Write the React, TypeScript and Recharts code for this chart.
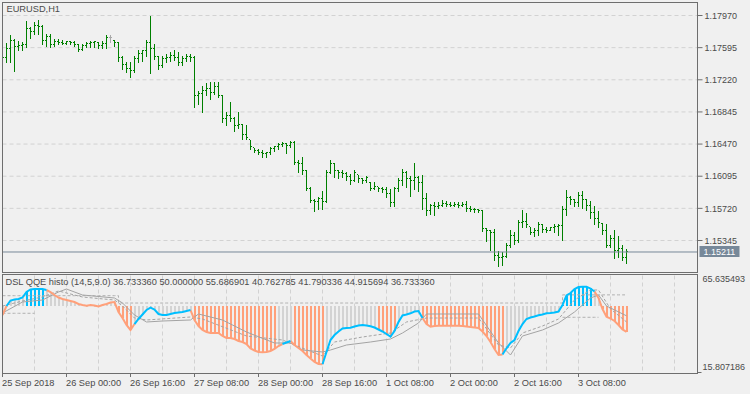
import React from 'react';
import { ComposedChart, Bar, Line, XAxis, YAxis, CartesianGrid, ReferenceLine } from 'recharts';

// ---------- DATA ----------
const SYMBOL = 'EURUSD,H1';
const INDICATOR_NAME = 'DSL QQE histo (14,5,9.0)';
const INDICATOR_VALUES = [36.73336, 50.0, 55.686901, 40.762785, 41.790336, 44.915694, 36.73336];

const OPEN = [
  1.17562, 1.17480, 1.17585, 1.17678, 1.17608, 1.17620, 1.17632, 1.17818, 1.17783, 1.17853,
  1.17842, 1.17678, 1.17725, 1.17632, 1.17667, 1.17655, 1.17643, 1.17667, 1.17655, 1.17632,
  1.17573, 1.17620, 1.17643, 1.17655, 1.17655, 1.17620, 1.17643, 1.17713, 1.17678, 1.17655,
  1.17480, 1.17398, 1.17352, 1.17328, 1.17468, 1.17527, 1.17562, 1.17655, 1.17585, 1.17492,
  1.17387, 1.17468, 1.17480, 1.17503, 1.17480, 1.17422, 1.17468, 1.17492, 1.17480, 1.17037,
  1.17060, 1.17095, 1.17118, 1.17072, 1.17142, 1.17037, 1.16768, 1.16803, 1.16768, 1.16687,
  1.16698, 1.16582, 1.16520, 1.16427, 1.16395, 1.16372, 1.16360, 1.16372, 1.16418, 1.16442,
  1.16465, 1.16477, 1.16453, 1.16488, 1.16255, 1.16243, 1.16162, 1.15952, 1.15812, 1.15800,
  1.15835, 1.15800, 1.16138, 1.16243, 1.16162, 1.16138, 1.16127, 1.16092, 1.16045, 1.16115,
  1.16068, 1.16045, 1.16025, 1.15952, 1.15975, 1.15952, 1.15940, 1.15893, 1.15788, 1.15952,
  1.16045, 1.16138, 1.16068, 1.16045, 1.16080, 1.16022, 1.15835, 1.15695, 1.15753, 1.15742,
  1.15753, 1.15777, 1.15765, 1.15753, 1.15765, 1.15753, 1.15765, 1.15718, 1.15707, 1.15701,
  1.15695, 1.15485, 1.15462, 1.15438, 1.15170, 1.15147, 1.15158, 1.15287, 1.15403, 1.15345,
  1.15555, 1.15567, 1.15508, 1.15438, 1.15462, 1.15532, 1.15473, 1.15462, 1.15497, 1.15508,
  1.15520, 1.15707, 1.15847, 1.15823, 1.15788, 1.15870, 1.15823, 1.15753, 1.15672, 1.15602,
  1.15547, 1.15462, 1.15287, 1.15368, 1.15228, 1.15252, 1.15147,
];
const HIGH = [
  1.17620, 1.17652, 1.17737, 1.17698, 1.17670, 1.17659, 1.17904, 1.17834, 1.17892, 1.17923,
  1.17865, 1.17757, 1.17757, 1.17698, 1.17698, 1.17687, 1.17678, 1.17678, 1.17670, 1.17640,
  1.17632, 1.17659, 1.17670, 1.17678, 1.17659, 1.17678, 1.17748, 1.17748, 1.17687, 1.17659,
  1.17503, 1.17425, 1.17425, 1.17503, 1.17570, 1.17570, 1.17687, 1.17970, 1.17640, 1.17503,
  1.17503, 1.17523, 1.17542, 1.17562, 1.17542, 1.17492, 1.17523, 1.17523, 1.17503, 1.17095,
  1.17153, 1.17180, 1.17192, 1.17192, 1.17192, 1.17037, 1.16842, 1.16959, 1.16784, 1.16842,
  1.16707, 1.16698, 1.16520, 1.16427, 1.16415, 1.16403, 1.16375, 1.16434, 1.16453, 1.16480,
  1.16492, 1.16480, 1.16504, 1.16504, 1.16287, 1.16317, 1.16170, 1.15967, 1.15832, 1.15858,
  1.15928, 1.16170, 1.16287, 1.16247, 1.16170, 1.16162, 1.16142, 1.16123, 1.16170, 1.16115,
  1.16077, 1.16103, 1.16025, 1.16025, 1.15975, 1.15967, 1.15967, 1.15948, 1.15967, 1.16077,
  1.16182, 1.16154, 1.16103, 1.16247, 1.16103, 1.16115, 1.15897, 1.15773, 1.15792, 1.15792,
  1.15812, 1.15804, 1.15792, 1.15792, 1.15792, 1.15792, 1.15804, 1.15742, 1.15727, 1.15715,
  1.15703, 1.15493, 1.15462, 1.15482, 1.15220, 1.15209, 1.15314, 1.15462, 1.15442, 1.15587,
  1.15703, 1.15664, 1.15508, 1.15493, 1.15559, 1.15540, 1.15500, 1.15508, 1.15532, 1.15540,
  1.15742, 1.15937, 1.15870, 1.15832, 1.15909, 1.15928, 1.15832, 1.15804, 1.15742, 1.15687,
  1.15547, 1.15532, 1.15415, 1.15462, 1.15392, 1.15287, 1.15248,
];
const LOW = [
  1.17445, 1.17425, 1.17425, 1.17320, 1.17570, 1.17570, 1.17600, 1.17710, 1.17757, 1.17757,
  1.17640, 1.17620, 1.17600, 1.17620, 1.17632, 1.17632, 1.17640, 1.17632, 1.17620, 1.17554,
  1.17562, 1.17600, 1.17600, 1.17608, 1.17589, 1.17589, 1.17593, 1.17659, 1.17620, 1.17445,
  1.17348, 1.17309, 1.17250, 1.17309, 1.17425, 1.17437, 1.17503, 1.17297, 1.17465, 1.17348,
  1.17367, 1.17425, 1.17445, 1.17453, 1.17398, 1.17398, 1.17445, 1.17445, 1.16900, 1.16940,
  1.16842, 1.17037, 1.16998, 1.17057, 1.17017, 1.16725, 1.16698, 1.16745, 1.16620, 1.16663,
  1.16532, 1.16532, 1.16415, 1.16375, 1.16357, 1.16317, 1.16325, 1.16357, 1.16395, 1.16415,
  1.16442, 1.16364, 1.16434, 1.16232, 1.16142, 1.16123, 1.15937, 1.15792, 1.15687, 1.15715,
  1.15715, 1.15792, 1.16130, 1.16084, 1.16077, 1.16084, 1.16053, 1.16007, 1.16045, 1.16025,
  1.16014, 1.16025, 1.15937, 1.15948, 1.15920, 1.15909, 1.15858, 1.15742, 1.15753, 1.15928,
  1.15987, 1.15967, 1.15870, 1.15948, 1.15928, 1.15715, 1.15637, 1.15657, 1.15637, 1.15727,
  1.15742, 1.15753, 1.15742, 1.15742, 1.15734, 1.15742, 1.15687, 1.15687, 1.15675, 1.15675,
  1.15454, 1.15345, 1.15237, 1.15112, 1.15053, 1.15065, 1.15150, 1.15267, 1.15307, 1.15325,
  1.15508, 1.15500, 1.15423, 1.15392, 1.15415, 1.15442, 1.15442, 1.15462, 1.15442, 1.15415,
  1.15353, 1.15648, 1.15773, 1.15742, 1.15753, 1.15727, 1.15703, 1.15610, 1.15540, 1.15508,
  1.15423, 1.15267, 1.15267, 1.15143, 1.15150, 1.15112, 1.15080,
];
const CLOSE = [
  1.17480, 1.17585, 1.17678, 1.17608, 1.17620, 1.17632, 1.17818, 1.17783, 1.17853, 1.17842,
  1.17678, 1.17725, 1.17632, 1.17667, 1.17655, 1.17643, 1.17667, 1.17655, 1.17632, 1.17573,
  1.17620, 1.17643, 1.17655, 1.17667, 1.17620, 1.17643, 1.17713, 1.17713, 1.17655, 1.17480,
  1.17398, 1.17352, 1.17328, 1.17468, 1.17527, 1.17562, 1.17655, 1.17585, 1.17492, 1.17387,
  1.17468, 1.17480, 1.17503, 1.17480, 1.17422, 1.17468, 1.17492, 1.17480, 1.17037, 1.17060,
  1.17095, 1.17118, 1.17072, 1.17142, 1.17037, 1.16768, 1.16803, 1.16768, 1.16687, 1.16698,
  1.16582, 1.16547, 1.16442, 1.16395, 1.16372, 1.16360, 1.16372, 1.16418, 1.16442, 1.16465,
  1.16477, 1.16453, 1.16488, 1.16255, 1.16243, 1.16162, 1.15952, 1.15812, 1.15800, 1.15835,
  1.15800, 1.16138, 1.16243, 1.16162, 1.16138, 1.16127, 1.16092, 1.16045, 1.16138, 1.16068,
  1.16045, 1.16080, 1.15952, 1.15975, 1.15952, 1.15940, 1.15893, 1.15788, 1.15952, 1.16045,
  1.16138, 1.16068, 1.16045, 1.16080, 1.16022, 1.15835, 1.15695, 1.15753, 1.15742, 1.15753,
  1.15777, 1.15765, 1.15753, 1.15765, 1.15753, 1.15765, 1.15718, 1.15707, 1.15701, 1.15695,
  1.15485, 1.15462, 1.15438, 1.15170, 1.15147, 1.15158, 1.15287, 1.15403, 1.15345, 1.15555,
  1.15567, 1.15532, 1.15438, 1.15462, 1.15532, 1.15473, 1.15462, 1.15497, 1.15508, 1.15520,
  1.15707, 1.15847, 1.15823, 1.15788, 1.15870, 1.15823, 1.15753, 1.15672, 1.15602, 1.15555,
  1.15462, 1.15287, 1.15368, 1.15228, 1.15252, 1.15147, 1.15211,
];

// QQE value per bar
const QQE = [
  45.34, 49.97, 52.79, 53.31, 53.56, 54.33, 57.16, 58.44, 58.70, 58.70,
  58.70, 58.19, 57.16, 55.62, 54.33, 53.56, 53.05, 52.54, 52.02, 51.00,
  50.48, 50.12, 50.48, 50.22, 49.71, 50.48, 51.00, 51.77, 52.02, 46.89,
  43.80, 40.21, 37.64, 40.72, 43.29, 45.60, 47.91, 49.09, 48.17, 45.86,
  45.34, 45.34, 45.86, 46.37, 46.63, 46.89, 47.40, 47.91, 42.78, 39.69,
  37.64, 36.61, 36.10, 36.10, 36.10, 34.56, 33.53, 33.53, 33.02, 31.99,
  31.47, 30.45, 28.14, 27.11, 26.34, 26.18, 26.34, 26.85, 27.88, 29.42,
  30.45, 31.22, 31.99, 29.93, 28.39, 26.85, 24.80, 23.00, 21.20, 20.17,
  20.02, 26.34, 32.50, 35.07, 36.87, 38.41, 38.67, 38.82, 39.44, 39.95,
  40.21, 39.95, 39.54, 38.92, 37.90, 36.87, 35.58, 34.20, 37.13, 41.75,
  45.09, 45.60, 46.22, 47.14, 47.40, 43.80, 40.72, 39.33, 39.69, 39.85,
  39.85, 39.85, 39.85, 39.85, 39.85, 39.69, 39.44, 39.18, 38.92, 38.67,
  36.87, 34.56, 31.47, 27.88, 24.80, 25.06, 28.24, 30.96, 32.50, 37.13,
  40.72, 43.29, 44.06, 44.57, 45.19, 45.60, 46.22, 46.37, 46.63, 47.14,
  50.48, 55.36, 56.65, 58.70, 59.73, 59.88, 59.88, 58.96, 57.42, 54.08,
  48.40, 44.47, 43.54, 42.26, 40.21, 37.90, 36.73,
];
// [from bar, to bar, colour] of the QQE line
const LINE_RUNS: [number, number, string][] = [
  [0, 1, 'o'], [1, 11, 'b'], [11, 33, 'o'], [33, 47, 'b'], [47, 70, 'o'], [70, 72, 'b'],
  [72, 80, 'o'], [80, 105, 'b'], [105, 125, 'o'], [125, 148, 'b'], [148, 156, 'o'],
];
// [from bar, to bar, colour] of the histogram
const HIST_RUNS: [number, number, string][] = [
  [0, 5, 'g'], [6, 10, 'b'], [11, 28, 'g'], [29, 32, 'o'], [33, 47, 'g'], [48, 68, 'o'],
  [69, 72, 'g'], [73, 80, 'o'], [81, 93, 'g'], [94, 98, 'o'], [99, 104, 'g'], [105, 125, 'o'],
  [126, 139, 'g'], [140, 147, 'b'], [148, 149, 'g'], [150, 156, 'o'],
];
const HIST_BASE = 50;
const SLOW_PTS: [number, number][] = [
  [0, 46.37], [5, 52.02], [10, 53.05], [14, 57.16], [16, 58.7], [20, 55.62], [28, 54.08], [30, 51.51],
  [33, 45.34], [36, 41.75], [40, 42.26], [47, 42.78], [49, 45.86], [55, 42.78], [61, 36.61], [68, 30.96],
  [72, 30.96], [75, 27.36], [80, 26.34], [82, 27.36], [86, 29.93], [92, 31.47], [97, 33.01], [100, 36.1],
  [104, 41.24], [106, 45.86], [119, 45.86], [124, 30.96], [127, 24.8], [130, 34.56], [135, 37.64],
  [139, 41.24], [143, 46.89], [147, 54.08], [149, 55.62], [151, 49.97], [156, 44.92],
];
const FAST_PTS: [number, number][] = [
  [0, 49.97], [5, 52.54], [10, 54.59], [14, 57.68], [20, 54.59], [28, 53.05], [30, 49.97], [33, 43.8],
  [36, 42.78], [47, 44.32], [50, 43.29], [61, 34.56], [70, 32.5], [73, 29.93], [80, 24.28], [83, 31.47],
  [90, 34.04], [97, 36.1], [101, 41.75], [106, 43.8], [119, 43.8], [124, 29.93], [127, 28.39],
  [130, 36.1], [135, 39.69], [139, 43.29], [143, 53.05], [147, 58.19], [149, 58.19], [152, 48.46],
  [156, 41.79],
];
const LEVEL_UP_RUNS: [number, number, number][] = [[0, 28, 55.26], [29, 139, 51.5], [140, 156, 55.69]];
const LEVEL_DN_RUNS: [number, number, number][] = [[0, 8, 46.22], [140, 149, 44.17]];

const PRICE_TICKS = [1.15345, 1.1572, 1.16095, 1.1647, 1.16845, 1.1722, 1.17595, 1.1797];
const PRICE_DOMAIN: [number, number] = [1.1497167, 1.1812167];
const QQE_MIN = 15.807186;
const QQE_MAX = 65.635493;
const X_DOMAIN: [number, number] = [0, 173.75];
const GRID_BARS = [8, 16, 24, 32, 40, 48, 56, 64, 72, 80, 88, 96, 104, 112, 120, 128, 136, 144, 152, 160, 168];
const TIME_TICKS = [0, ...GRID_BARS];
const LABEL_BARS = [0, 16, 32, 48, 64, 80, 96, 112, 128, 144];
const LABEL_TEXT = ['25 Sep 2018', '26 Sep 00:00', '26 Sep 16:00', '27 Sep 08:00', '28 Sep 00:00',
  '28 Sep 16:00', '1 Oct 08:00', '2 Oct 00:00', '2 Oct 16:00', '3 Oct 08:00'];

// ---------- STYLE ----------
const FONT = '"Liberation Sans", Arial, sans-serif';
const BG = '#f0f0f0';
const TEXT = '#4b4b4b';
const FRAME = '#6e6e6e';
const GRID = '#d2d2d2';
const BAR = '#008000';
const DOJI = '#a9a9a9';
const COLORS: Record<string, string> = { g: '#d3d3d3', b: '#00bfff', o: '#ffa07a' };
const GRAY_LINE = '#a3a3a3';
const W = 750;
const AXIS_W = 52.5;
const PLOT_RIGHT = W - AXIS_W;

const runColor = (i: number) => {
  for (const [a, b, c] of HIST_RUNS) if (i >= a && i <= b) return COLORS[c];
  return COLORS.g;
};
const inLineRun = (i: number, c: string) => LINE_RUNS.some(([a, b, k]) => k === c && i >= a && i <= b);
const runValue = (runs: [number, number, number][], i: number) => {
  for (const [a, b, v] of runs) if (i >= a && i <= b) return v;
  return null;
};
const slowMap = new Map(SLOW_PTS);
const fastMap = new Map(FAST_PTS);

const rows = OPEN.map((o, i) => ({
  i,
  o,
  h: HIGH[i],
  l: LOW[i],
  c: CLOSE[i],
  hl: [LOW[i], HIGH[i]],
  hist: [HIST_BASE, QQE[i]],
  histColor: runColor(i),
  qb: inLineRun(i, 'b') ? QQE[i] : null,
  qo: inLineRun(i, 'o') ? QQE[i] : null,
  slow: slowMap.has(i) ? slowMap.get(i) : null,
  fast: fastMap.has(i) ? fastMap.get(i) : null,
  lvUp: runValue(LEVEL_UP_RUNS, i),
  lvDn: runValue(LEVEL_DN_RUNS, i),
}));
const LAST = CLOSE[CLOSE.length - 1];

// ---------- SHAPES ----------
const OhlcShape = (props: any) => {
  const { x, y, width, height, payload } = props;
  if (x == null || !payload || height == null) return null;
  const top = Math.min(y, y + height);
  const h = Math.abs(height);
  const cx = Math.floor(x + width / 2) + 0.5;
  const span = payload.h - payload.l || 1;
  const oy = Math.floor(top + ((payload.h - payload.o) / span) * h) + 0.5;
  const cy = Math.floor(top + ((payload.h - payload.c) / span) * h) + 0.5;
  const color = payload.o === payload.c ? DOJI : BAR;
  return (
    <g>
      <line x1={cx} x2={cx} y1={Math.round(top)} y2={Math.round(top + h) + 1} stroke={color} strokeWidth={1} />
      <line x1={cx - 1.5} x2={cx - 0.5} y1={oy} y2={oy} stroke={color} strokeWidth={1} />
      <line x1={cx + 0.5} x2={cx + 1.5} y1={cy} y2={cy} stroke={color} strokeWidth={1} />
    </g>
  );
};

const HistShape = (props: any) => {
  const { x, y, width, height, payload } = props;
  if (x == null || !payload || height == null) return null;
  const top = Math.round(Math.min(y, y + height));
  const bot = Math.round(Math.max(y, y + height));
  const left = Math.floor(x + width / 2);
  return <rect x={left} y={top} width={2} height={Math.max(bot - top, 1)} fill={payload.histColor} />;
};

const PriceTick = (props: any) => {
  const { x, y, payload } = props;
  return (
    <text x={x} y={y} dy="0.355em" fill={TEXT} fontSize={9} fontFamily={FONT} textAnchor="start">
      {Number(payload.value).toFixed(5)}
    </text>
  );
};

const QqeTick = (props: any) => {
  const { y, payload } = props;
  const isTop = Math.abs(payload.value - QQE_MAX) < 1e-6;
  const ty = isTop ? y + 3.8 : y - 5.2;
  const ly = Math.floor(y) + 0.5;
  return (
    <g>
      {!isTop && <line x1={PLOT_RIGHT} x2={PLOT_RIGHT + 4} y1={ly} y2={ly} stroke={FRAME} />}
      <text x={PLOT_RIGHT + 5} y={ty} dy="0.355em" fill={TEXT} fontSize={9} fontFamily={FONT} textAnchor="start">
        {Number(payload.value).toFixed(6)}
      </text>
    </g>
  );
};

const SUB_PLOT_BOTTOM = 99.5;
const TimeTick = (props: any) => {
  const { x, payload } = props;
  const k = LABEL_BARS.indexOf(payload.value);
  if (k < 0) return null;
  const lx = Math.floor(x) + 0.5;
  return (
    <g>
      <line x1={lx} x2={lx} y1={SUB_PLOT_BOTTOM + 1} y2={SUB_PLOT_BOTTOM + 4.5} stroke={FRAME} />
      <text x={x - 0.5} y={SUB_PLOT_BOTTOM + 9.8} dy="0.355em" fill={TEXT} fontSize={9.25} fontFamily={FONT} textAnchor="start">
        {LABEL_TEXT[k]}
      </text>
    </g>
  );
};

const PriceBox = (props: any) => {
  const vb = props.viewBox || {};
  const y = vb.y ?? 252;
  const top = Math.round(y) - 6;
  return (
    <g>
      <rect x={PLOT_RIGHT + 2} y={top} width={40} height={11} fill="#778899" />
      <text x={PLOT_RIGHT + 6} y={top + 5.5} dy="0.355em" fill="#ffffff" fontSize={9} fontFamily={FONT}>
        {LAST.toFixed(5)}
      </text>
    </g>
  );
};

// ---------- APP ----------
export default function App() {
  const title = `${INDICATOR_NAME} ${INDICATOR_VALUES.map((v) => v.toFixed(6)).join(' ')}`;
  return (
    <div style={{ position: 'fixed', left: 0, top: 0, width: W, height: 394, background: BG, overflow: 'hidden', fontFamily: FONT }}>
      <div style={{ position: 'absolute', left: 0, top: 0 }}>
        <ComposedChart width={W} height={274} data={rows} margin={{ top: 2.5, right: 0, bottom: 1.5, left: 2.5 }}>
          <CartesianGrid stroke={GRID} strokeDasharray="4 3" />
          <XAxis dataKey="i" type="number" domain={X_DOMAIN} ticks={GRID_BARS} interval={0} height={0}
            tick={false} axisLine={false} tickLine={false} allowDataOverflow />
          <YAxis orientation="right" width={AXIS_W} type="number" domain={PRICE_DOMAIN} ticks={PRICE_TICKS}
            interval={0} allowDataOverflow axisLine={false} tickSize={5} tickLine={{ stroke: FRAME }} tick={<PriceTick />} />
          <ReferenceLine y={LAST} stroke="#778899" strokeWidth={1} label={<PriceBox />} />
          <Bar dataKey="hl" barSize={2} shape={<OhlcShape />} isAnimationActive={false} />
        </ComposedChart>
      </div>
      <div style={{ position: 'absolute', left: 0, top: 273 }}>
        <ComposedChart width={W} height={121} data={rows} margin={{ top: 2.5, right: 0, bottom: 0, left: 2.5 }}>
          <CartesianGrid horizontal={false} stroke={GRID} strokeDasharray="4 3" />
          <XAxis dataKey="i" type="number" domain={X_DOMAIN} ticks={TIME_TICKS} interval={0} height={21.5}
            axisLine={false} tickLine={false} tick={<TimeTick />} allowDataOverflow />
          <YAxis orientation="right" width={AXIS_W} type="number" domain={[QQE_MIN, QQE_MAX]} ticks={[QQE_MIN, QQE_MAX]}
            interval={0} allowDataOverflow axisLine={false} tickLine={false} tick={<QqeTick />} />
          <Bar dataKey="hist" barSize={2} shape={<HistShape />} isAnimationActive={false} />
          <Line dataKey="lvUp" type="stepAfter" stroke="#b0b0b0" strokeDasharray="3 2" strokeWidth={1} dot={false} activeDot={false} isAnimationActive={false} />
          <Line dataKey="lvDn" type="stepAfter" stroke="#b0b0b0" strokeDasharray="3 2" strokeWidth={1} dot={false} activeDot={false} isAnimationActive={false} />
          <Line dataKey="slow" connectNulls stroke={GRAY_LINE} strokeWidth={1} dot={false} activeDot={false} isAnimationActive={false} />
          <Line dataKey="fast" connectNulls stroke={GRAY_LINE} strokeDasharray="3 2" strokeWidth={1} dot={false} activeDot={false} isAnimationActive={false} />
          <Line dataKey="qo" stroke={COLORS.o} strokeWidth={2} dot={false} activeDot={false} isAnimationActive={false} />
          <Line dataKey="qb" stroke={COLORS.b} strokeWidth={2} dot={false} activeDot={false} isAnimationActive={false} />
        </ComposedChart>
      </div>
      <div style={{ position: 'absolute', left: 2, top: 2, width: 696, height: 271, boxSizing: 'border-box', border: `1px solid ${FRAME}`, pointerEvents: 'none' }} />
      <div style={{ position: 'absolute', left: 2, top: 274, width: 696, height: 100, boxSizing: 'border-box', border: `1px solid ${FRAME}`, pointerEvents: 'none' }} />
      <div style={{ position: 'absolute', left: 6.5, top: 4, fontSize: 9.25, lineHeight: '11px', color: TEXT, whiteSpace: 'nowrap' }}>{SYMBOL}</div>
      <div style={{ position: 'absolute', left: 5.5, top: 277, fontSize: 9.25, lineHeight: '11px', color: TEXT, whiteSpace: 'nowrap' }}>{title}</div>
    </div>
  );
}
